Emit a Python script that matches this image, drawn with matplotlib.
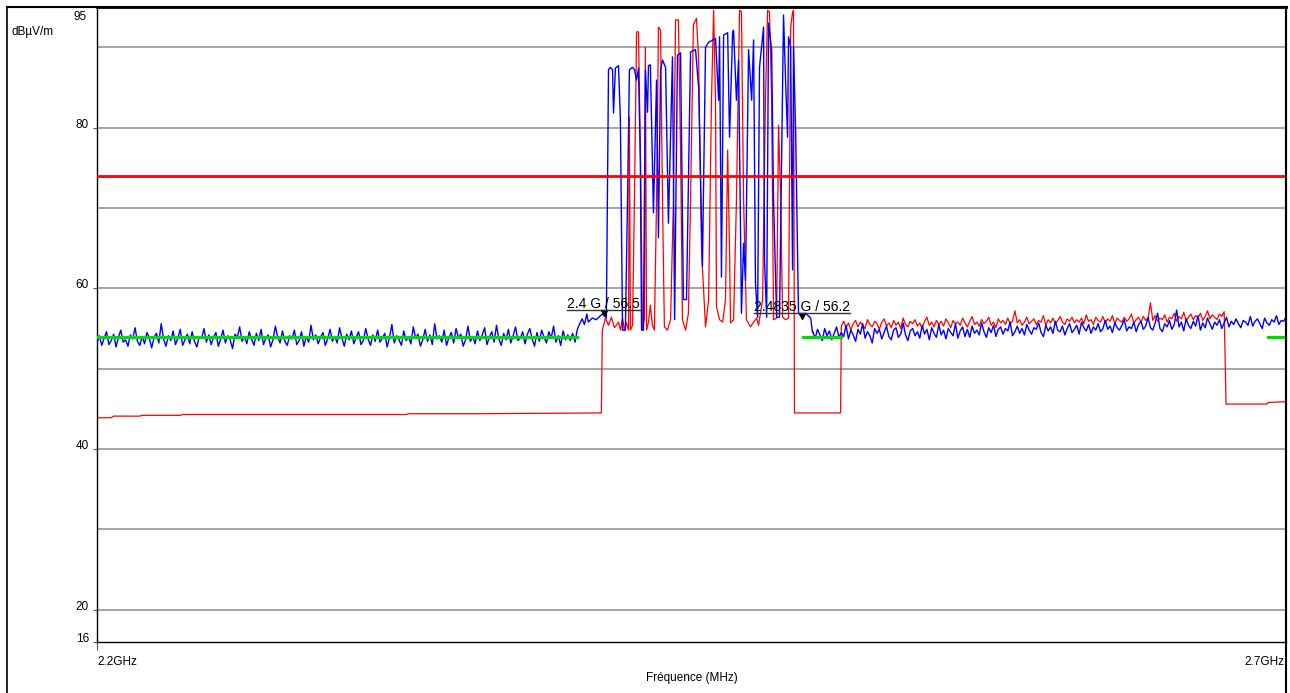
import numpy as np
import matplotlib.pyplot as plt
from matplotlib.lines import Line2D
from matplotlib.transforms import offset_copy, IdentityTransform

plt.rcParams['font.family'] = ['Liberation Sans', 'DejaVu Sans']

# levels (dBuV/m)
y_ticks = [16, 20, 40, 60, 80, 95]
grid_levels = [20, 30, 40, 50, 60, 70, 80, 90]
limit_level = 74.0
green_level = 54.0

# blue trace (MHz / dBuV/m)
blue_left_f = np.arange(2200, 2407)
blue_left_v = [
    53.2, 54.1, 52.9, 53.8, 54.6, 53.0, 53.5, 54.3, 52.7, 53.9,
    54.8, 53.3, 53.6, 52.8, 54.2, 53.7, 55.1, 53.4, 52.9, 54.0,
    53.1, 54.5, 53.8, 52.6, 53.9, 54.4, 53.2, 55.6, 53.7, 52.8,
    54.1, 53.5, 54.7, 53.0, 53.8, 54.9, 52.9, 53.6, 54.3, 53.1,
    54.6, 53.4, 52.7, 54.0, 53.8, 55.0, 53.3, 54.2, 53.0, 53.9,
    54.5, 52.8, 53.7, 54.8, 53.2, 54.1, 53.6, 52.5, 54.3, 53.9,
    55.2, 53.4, 54.0, 53.1, 54.6, 53.7, 52.9, 54.4, 53.5, 54.9,
    53.0, 53.8, 54.2, 52.7, 53.6, 55.3, 53.9, 53.2, 54.7, 53.4,
    52.9, 54.1, 53.7, 54.8, 53.0, 53.5, 54.6, 52.8, 54.0, 53.3,
    55.4, 53.6, 54.2, 53.1, 53.9, 54.5, 52.9, 53.7, 54.9, 53.4,
    54.0, 53.2, 55.1, 53.8, 52.8, 54.3, 53.6, 54.7, 53.1, 53.9,
    54.6, 53.0, 53.5, 55.0, 53.7, 52.9, 54.2, 53.4, 54.8, 53.3,
    53.8, 54.4, 52.7, 53.9, 55.5, 53.2, 54.1, 53.6, 52.9, 54.7,
    53.5, 54.0, 53.1, 55.2, 53.8, 54.3, 52.8, 53.6, 54.9, 53.4,
    54.2, 53.0, 55.6, 53.7, 54.1, 53.3, 54.8, 52.9, 53.9, 54.5,
    53.2, 55.0, 53.8, 54.3, 52.8, 53.6, 55.3, 53.4, 54.0, 53.1,
    54.7, 53.5, 54.2, 55.1, 53.0, 53.9, 54.6, 53.3, 55.4, 53.7,
    52.9, 54.4, 53.6, 54.9, 53.2, 54.1, 55.2, 53.5, 53.8, 54.6,
    53.1, 54.3, 55.0, 53.7, 52.8, 54.5, 53.4, 54.8, 53.9, 53.2,
    54.6, 53.8, 55.3, 53.3, 54.1, 52.9, 54.7, 53.6, 54.2, 53.5,
    54.4, 53.3, 54.9, 55.6, 56.2, 55.5, 56.8]

blue_band_f = [
    2406.6, 2408.3, 2410.0, 2411.7, 2413.0, 2414.2, 2415.1, 2415.9, 2416.8, 2417.2,
    2418.0, 2419.3, 2420.1, 2421.0, 2422.2, 2423.1, 2423.9, 2425.2, 2426.0, 2426.9,
    2427.7, 2428.5, 2429.0, 2429.8, 2430.6, 2431.5, 2431.9, 2432.7, 2434.0, 2435.3,
    2436.1, 2437.0, 2437.8, 2439.1, 2440.3, 2442.0, 2442.9, 2444.1, 2445.4, 2446.6,
    2447.9, 2449.6, 2451.7, 2453.0, 2454.6, 2455.9, 2457.2, 2460.1, 2461.4, 2461.8,
    2462.6, 2463.5, 2465.2, 2466.0, 2467.3, 2467.7, 2468.9, 2469.8, 2471.0, 2471.9,
    2472.7, 2474.0, 2475.3, 2476.1, 2476.9, 2477.8, 2478.6, 2480.3, 2480.7, 2481.6,
    2482.4, 2483.7, 2484.5, 2485.8, 2487.0, 2488.7, 2489.6, 2490.4, 2490.8, 2491.7,
    2492.5, 2492.9, 2493.8, 2495.0, 2496.7, 2498.0, 2500.1, 2500.9]
blue_band_v = [
    55.8, 56.3, 56.1, 56.6, 56.9, 56.3, 87.2, 87.5, 87.2, 81.8,
    87.4, 87.7, 80.9, 54.8, 54.8, 71.0, 87.2, 87.5, 87.2, 85.9,
    87.4, 75.6, 54.8, 54.8, 87.2, 81.9, 87.7, 87.8, 69.4, 85.9,
    66.3, 87.2, 88.4, 87.5, 68.1, 88.8, 56.1, 89.0, 89.3, 58.6,
    58.6, 89.4, 89.7, 85.0, 62.7, 90.0, 90.6, 91.1, 83.4, 91.3,
    61.4, 91.5, 91.8, 78.8, 91.9, 92.1, 83.4, 88.4, 56.9, 65.6,
    61.0, 89.7, 83.4, 90.9, 60.7, 56.4, 87.5, 92.5, 63.5, 56.4,
    93.0, 89.7, 71.0, 56.4, 56.4, 94.0, 85.5, 78.8, 91.3, 90.0,
    62.3, 90.0, 79.3, 56.9, 56.4, 56.9, 56.3, 54.5]

blue_right_f = np.arange(2501, 2701)
blue_right_v = [
    54.6, 53.8, 54.9, 54.2, 53.5, 55.0, 54.1, 54.7, 53.6, 54.4,
    55.2, 53.9, 54.5, 54.0, 55.4, 53.7, 54.8, 54.2, 53.4, 54.9,
    54.3, 55.6, 53.8, 54.6, 54.1, 53.2, 55.0, 54.4, 54.9, 53.7,
    54.5, 55.3, 54.0, 53.6, 54.8, 55.1, 53.9, 54.3, 55.7, 54.2,
    53.5, 54.7, 55.0, 54.1, 54.6, 53.8, 55.4, 54.3, 54.9, 53.6,
    55.1, 54.4, 53.9, 55.5, 54.2, 54.8, 53.7, 55.0, 54.5, 54.1,
    55.6, 53.8, 54.7, 55.2, 54.0, 54.9, 53.9, 55.3, 54.4, 54.8,
    54.2, 55.7, 54.6, 53.9, 55.1, 54.5, 55.4, 54.0, 54.9, 55.2,
    54.3, 55.0, 54.7, 55.8, 54.1, 54.6, 55.3, 54.4, 55.0, 54.2,
    55.5, 54.8, 54.3, 55.1, 54.9, 55.7, 54.5, 54.0, 55.4, 54.7,
    55.2, 54.4, 55.9, 54.8, 54.6, 55.3, 54.2, 55.0, 55.6, 54.5,
    54.9, 55.4, 54.3, 55.8, 55.1, 54.7, 55.5, 54.4, 55.2, 54.8,
    55.6, 54.6, 55.0, 56.0, 54.9, 55.3, 54.5, 55.7, 55.1, 54.8,
    55.4, 56.1, 54.7, 55.2, 55.0, 55.8, 54.6, 55.5, 55.9, 54.9,
    55.3, 56.4, 55.1, 54.8, 55.7, 56.9, 55.0, 54.6, 55.6, 55.2,
    56.0, 54.9, 55.5, 57.3, 55.2, 55.8, 54.7, 56.2, 55.4, 55.0,
    55.9, 55.3, 56.6, 54.8, 55.7, 55.1, 56.3, 55.6, 54.9, 55.8,
    55.4, 56.1, 55.0, 55.7, 56.4, 55.2, 55.9, 55.5, 56.2, 55.6,
    55.1, 56.0, 55.8, 55.4, 56.5, 55.3, 55.9, 56.2, 55.6, 55.0,
    56.3, 55.7, 55.4, 56.1, 55.8, 56.6, 55.5, 56.0, 55.9, 56.4]

# red trace
red_left_f = [2200, 2206, 2207, 2218, 2219, 2235, 2236, 2300, 2330, 2331, 2360, 2412.1]
red_left_v = [43.9, 43.9, 44.1, 44.1, 44.2, 44.2, 44.3, 44.3, 44.3, 44.4, 44.4, 44.5]

red_band_f = [
    2412.1, 2412.5, 2413.8, 2415.1, 2416.3, 2417.6, 2418.4, 2419.3, 2420.1, 2421.0,
    2421.8, 2422.6, 2423.5, 2423.9, 2424.3, 2425.2, 2426.0, 2426.9, 2427.7, 2428.5,
    2429.4, 2430.2, 2430.6, 2431.1, 2431.9, 2432.7, 2433.6, 2434.4, 2435.3, 2436.1,
    2437.0, 2437.8, 2438.6, 2439.9, 2441.2, 2442.4, 2443.3, 2444.5, 2445.4, 2446.2,
    2447.5, 2448.7, 2449.6, 2450.8, 2452.1, 2453.0, 2454.2, 2455.9, 2457.2, 2458.4,
    2459.3, 2460.1, 2460.5, 2461.8, 2463.1, 2464.3, 2465.2, 2466.0, 2466.4, 2467.7,
    2468.9, 2470.2, 2471.0, 2471.9, 2473.1, 2474.8, 2476.1, 2477.4, 2478.2, 2479.9,
    2481.1, 2482.0, 2482.8, 2483.7, 2484.5, 2485.8, 2486.6, 2487.5, 2488.3, 2489.6,
    2490.8, 2491.7, 2492.5, 2492.9, 2493.3, 2512.7]
red_band_v = [
    44.5, 54.8, 56.3, 55.4, 56.4, 55.1, 55.4, 55.8, 54.8, 56.3,
    54.8, 55.7, 54.8, 81.3, 54.8, 55.4, 71.0, 91.9, 91.9, 77.2,
    54.8, 56.3, 90.0, 54.8, 55.8, 57.9, 55.4, 54.8, 71.0, 92.5,
    92.1, 71.0, 55.2, 54.8, 56.1, 71.0, 93.4, 93.4, 77.2, 56.1,
    54.8, 56.9, 71.0, 92.8, 93.6, 88.4, 64.8, 55.2, 58.6, 83.4,
    94.6, 83.4, 57.7, 56.1, 55.8, 58.6, 77.2, 64.8, 55.7, 56.1,
    71.0, 94.6, 94.4, 71.0, 56.1, 55.2, 55.8, 56.3, 55.4, 58.6,
    83.4, 94.6, 94.4, 83.4, 56.1, 56.3, 80.3, 71.0, 56.4, 56.1,
    56.3, 92.5, 94.3, 94.6, 44.5, 44.5]

red_right_f = np.arange(2513, 2675)
red_right_v = [
    55.3, 55.9, 55.1, 55.7, 54.8, 55.6, 56.0, 55.2, 55.8, 55.4,
    55.0, 56.1, 55.5, 55.2, 55.9, 55.6, 54.9, 55.8, 56.2, 55.3,
    55.7, 55.1, 56.0, 55.4, 55.8, 55.0, 56.3, 55.5, 55.2, 55.9,
    55.6, 56.1, 55.3, 55.7, 55.0, 55.9, 56.4, 55.4, 55.8, 55.2,
    56.0, 55.5, 55.9, 55.3, 56.2, 55.7, 55.1, 56.0, 55.6, 55.8,
    55.4, 56.3, 55.7, 55.2, 55.9, 56.5, 55.5, 55.8, 55.3, 56.1,
    55.6, 55.9, 56.4, 55.4, 55.8, 55.1, 56.2, 55.7, 56.0, 55.5,
    56.3, 55.6, 55.9, 57.2, 55.7, 56.1, 55.4, 55.8, 56.4, 55.6,
    55.9, 56.2, 55.5, 56.0, 55.8, 56.6, 55.4, 56.1, 55.7, 56.3,
    55.6, 56.0, 56.5, 55.8, 55.5, 56.2, 55.9, 56.4, 55.7, 56.1,
    55.8, 56.3, 55.6, 56.7, 55.9, 56.1, 55.5, 56.4, 56.0, 55.8,
    56.5, 55.7, 56.2, 55.9, 56.6, 55.6, 56.3, 56.0, 55.8, 56.4,
    55.9, 56.2, 56.8, 55.7, 56.1, 56.4, 55.8, 56.5, 56.0, 56.3,
    58.2, 56.0, 56.6, 55.9, 56.3, 56.1, 56.7, 55.8, 56.4, 56.2,
    56.9, 55.9, 56.5, 56.2, 57.0, 56.0, 56.4, 56.8, 56.1, 56.6,
    56.3, 56.9, 56.0, 56.5, 57.2, 56.2, 56.7, 56.4, 56.1, 56.8,
    56.5, 57.1]
red_end_f = [2674.8, 2692.0, 2692.5, 2700]
red_end_v = [45.6, 45.6, 45.8, 45.9]

# green reference segments
green_f = [2200, 2402, np.nan, 2496.7, 2512.7, np.nan, 2692.4, 2700]
green_v = [54.0, 54.0, np.nan, 54.0, 54.0, np.nan, 54.0, 54.0]

# markers
marker_f = [2413.0, 2496.3]
marker_v = [56.9, 56.5]
marker_text = ['2.4 G / 56.5', '2.4835 G / 56.2']

blue_f = np.concatenate([blue_left_f, blue_band_f, blue_right_f])
blue_v = np.concatenate([blue_left_v, blue_band_v, blue_right_v])
red_f = np.concatenate([red_left_f, red_band_f, red_right_f, red_end_f])
red_v = np.concatenate([red_left_v, red_band_v, red_right_v, red_end_v])

W, H = 1290, 693
fig = plt.figure(figsize=(W / 100, H / 100), dpi=100)
ax = fig.add_axes([97 / W, 1 - 642 / H, (1286 - 97) / W, (642 - 7) / H])

for g in grid_levels:
    ax.axhline(g, color='#8c8c8c', lw=1.1, zorder=1)

ax.plot(red_f, red_v, color='#ff0000', lw=0.9, zorder=2)
ax.plot(blue_f, blue_v, color='#0000ff', lw=1.0, zorder=3)
ax.plot(green_f, green_v, color='#00dd00', lw=2.3, zorder=4)
ax.axhline(limit_level, color='#ff0000', lw=2.0, zorder=5)

ax.set_xlim(2200, 2700)
ax.set_ylim(16, 95)

# y labels
ax.set_yticks(y_ticks)
ax.set_yticklabels([])
ax.tick_params(axis='y', length=3, color='#555555', width=0.8)
ytr = offset_copy(ax.get_yaxis_transform(), fig=fig, x=-8, y=0, units='dots')
ytr_top = offset_copy(ax.get_yaxis_transform(), fig=fig, x=-10, y=-4, units='dots')
for t in y_ticks:
    if t == 95:
        ax.text(0, t, str(t), transform=ytr_top, ha='right', va='top', fontsize=8.5)
    else:
        ax.text(0, t, str(t), transform=ytr, ha='right', va='baseline', fontsize=8.5)

# x labels
ax.set_xticks([2200])
ax.set_xticklabels([])
ax.tick_params(axis='x', length=6, color='#555555', width=0.8)
ax.text(0.0, -0.022, '2.2GHz', transform=ax.transAxes, ha='left', va='top', fontsize=8.5)
ax.text(0.9985, -0.022, '2.7GHz', transform=ax.transAxes, ha='right', va='top', fontsize=8.5)
ax.text(0.5, -0.048, 'Fréquence (MHz)', transform=ax.transAxes, ha='center', va='top', fontsize=8.5)
fig.text(12 / W, 1 - 32 / H, 'dBµV/m', ha='left', va='center', fontsize=8.5)

for s in ['left', 'bottom']:
    ax.spines[s].set_linewidth(1.0)
ax.spines['top'].set_linewidth(2.0)
ax.spines['right'].set_linewidth(1.5)

# markers with underlined labels
labels = []
for f, v, s in zip(marker_f, marker_v, marker_text):
    ax.plot(f, v, marker='v', color='black', ms=4, zorder=6)
    t = ax.annotate(s, (f, v), xytext=(0, 1.5), textcoords='offset points',
                    ha='center', va='bottom', fontsize=10, zorder=7)
    labels.append(t)

# outer frame
fig.add_artist(Line2D([7 / W, 7 / W], [0, 1 - 7 / H], color='black', lw=1.2))
fig.add_artist(Line2D([7 / W, 1287 / W], [1 - 7 / H, 1 - 7 / H], color='black', lw=1.5))
fig.add_artist(Line2D([1286 / W, 1286 / W], [0, 1 - 7 / H], color='black', lw=1.5))

fig.canvas.draw()
for t in labels:
    bb = t.get_window_extent()
    fig.add_artist(Line2D([bb.x0, bb.x1], [bb.y0 + 1, bb.y0 + 1], color='#333333',
                          lw=1.0, transform=IdentityTransform()))

fig.savefig('out.png', dpi=100)
